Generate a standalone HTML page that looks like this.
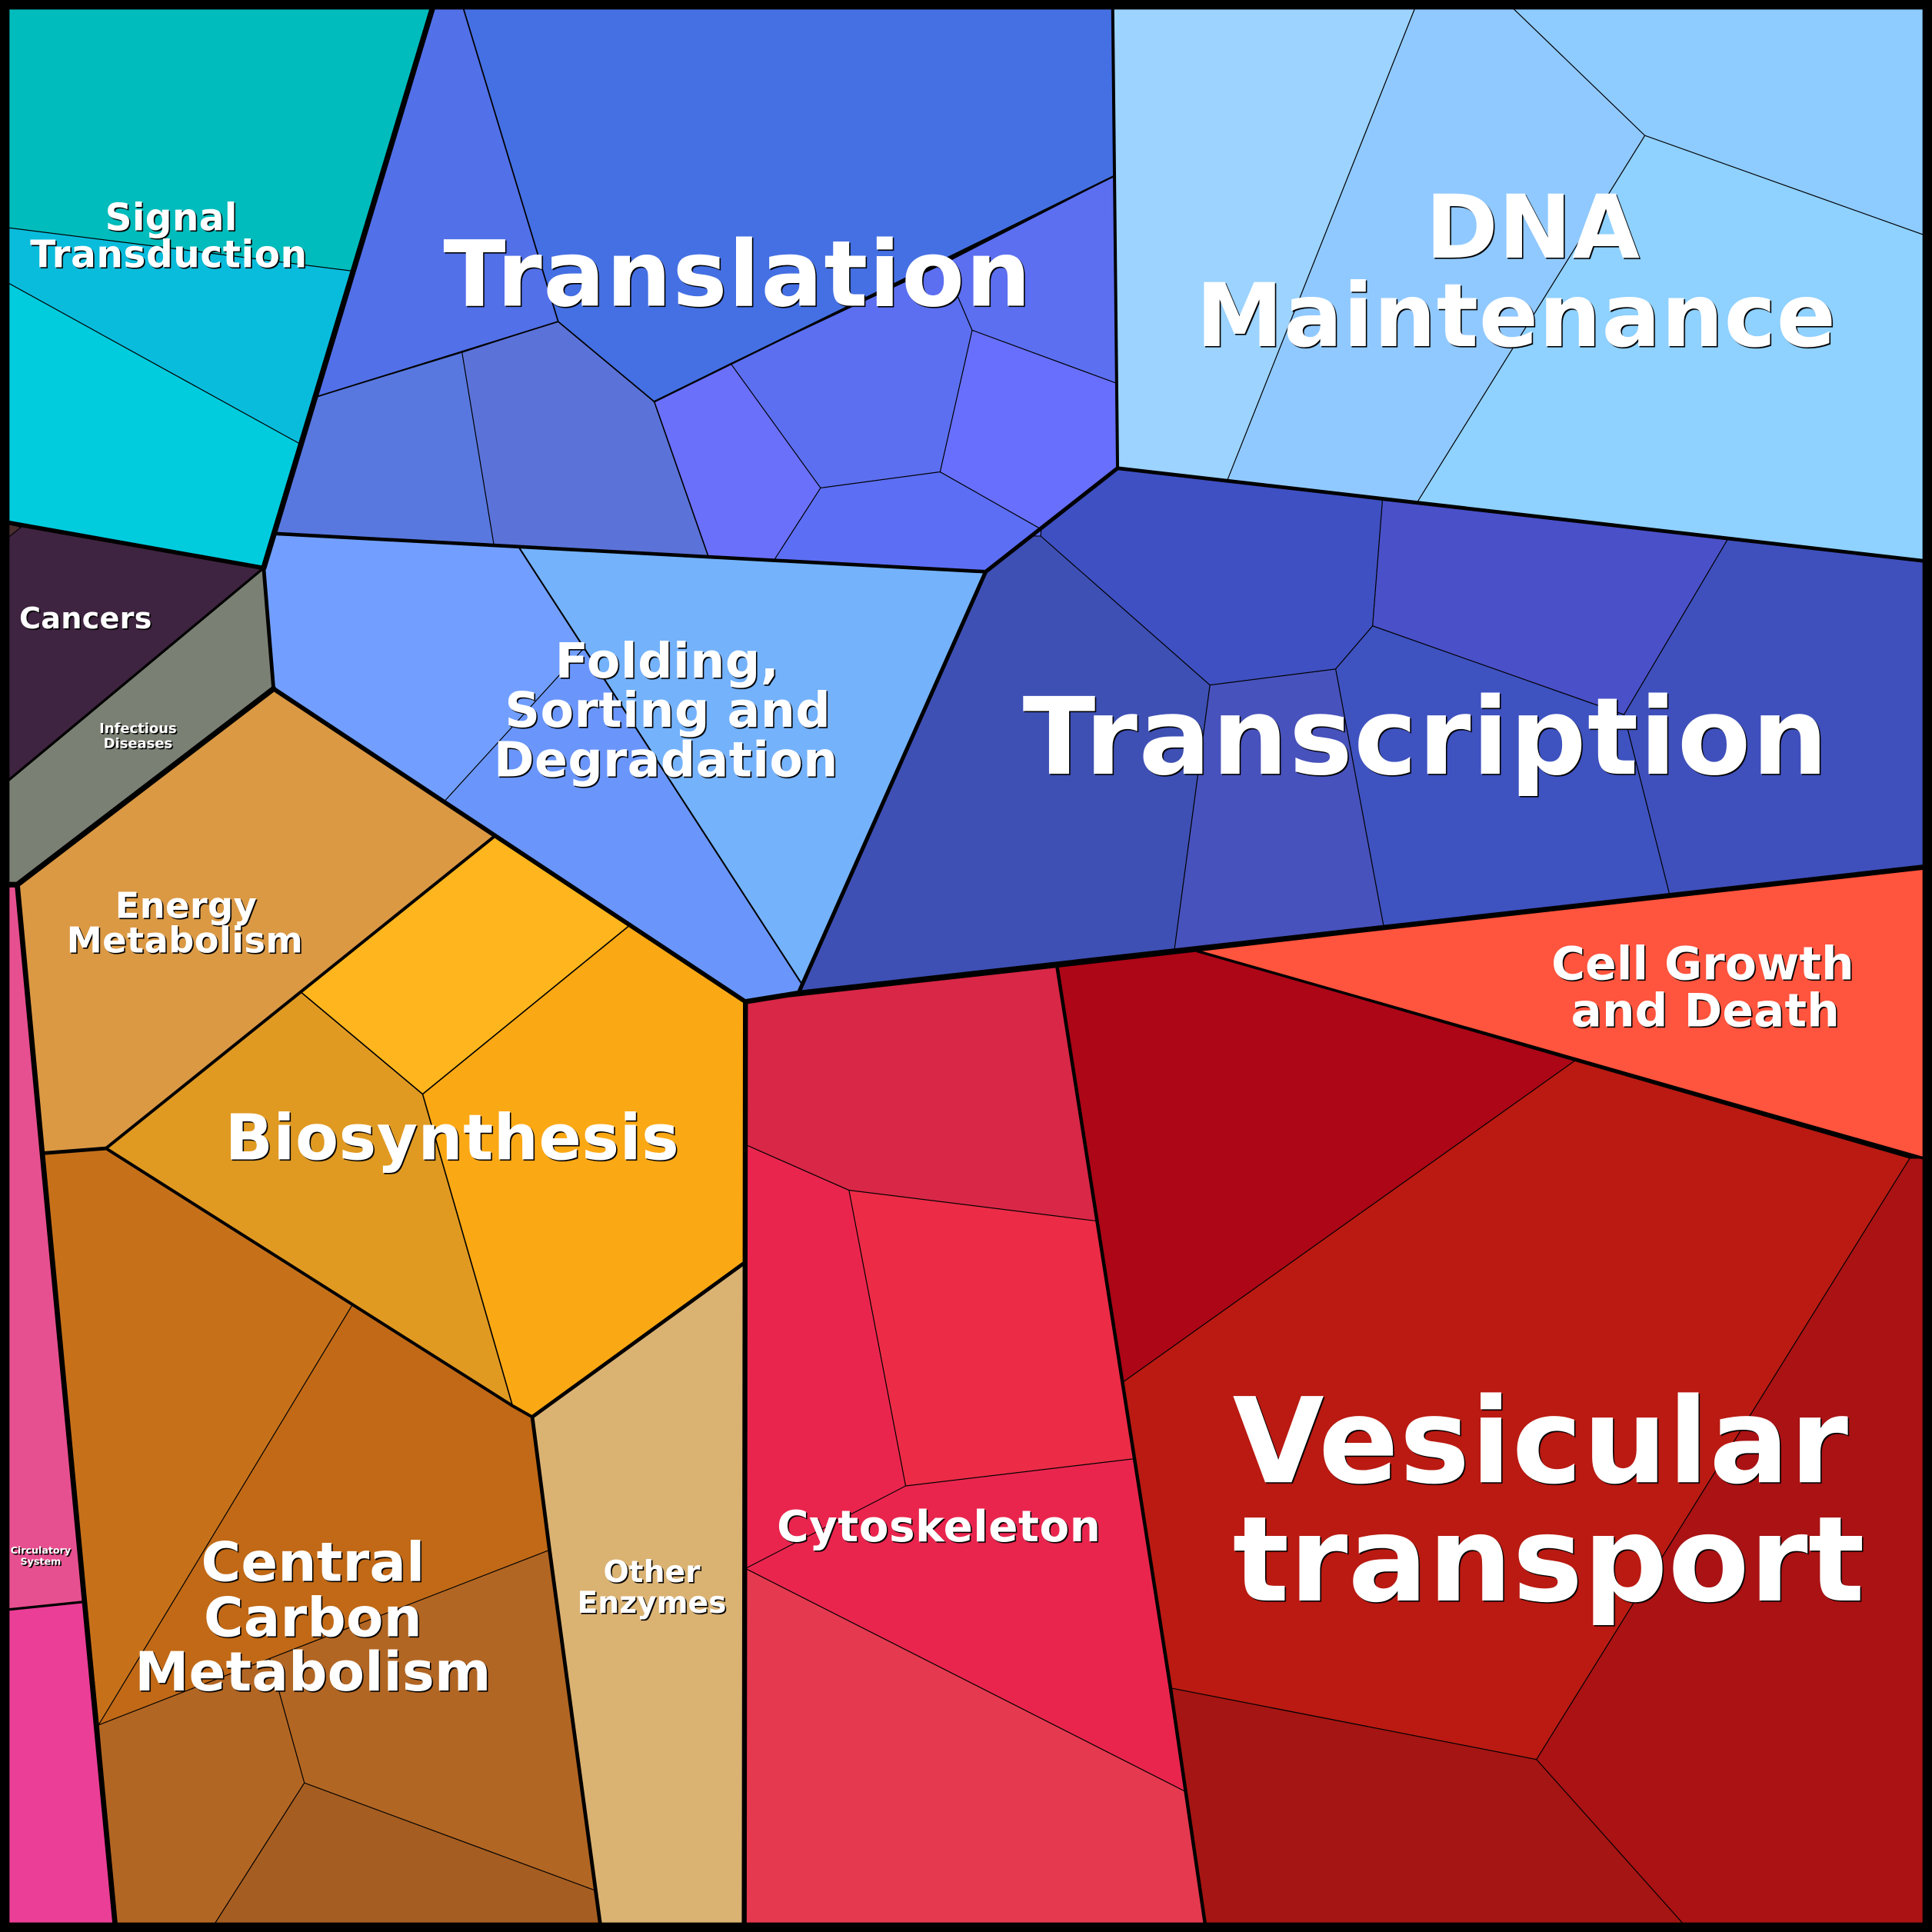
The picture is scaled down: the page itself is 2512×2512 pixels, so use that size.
<!DOCTYPE html>
<html><head><meta charset="utf-8"><style>
html,body{margin:0;padding:0;background:#000}
svg{display:block}
.c polygon{stroke:#000;stroke-width:.7;stroke-linejoin:round}
.t polyline{fill:none;stroke:#000;stroke-linejoin:round;stroke-linecap:round}
text{font-family:"DejaVu Sans",sans-serif;font-weight:700;fill:#fff;text-anchor:middle}
.lab{filter:drop-shadow(1px 1px .2px #000)}
</style></head><body>
<svg xmlns="http://www.w3.org/2000/svg" width="2512" height="2512" viewBox="0 0 1568 1568">
<rect width="1568" height="1568" fill="#000"/>
<g class="c">
<polygon fill="#00bcbc" points="0,0 353,0 286,220 0,184"/>
<polygon fill="#0abcdc" points="0,184 286,220 243,360 0,226"/>
<polygon fill="#00ccdd" points="0,226 243,360 214,461 0,423"/>
<polygon fill="#3e2440" points="0,423 214,461 0,639"/>
<polygon fill="#4a2e30" points="7,425 17,428 7,436"/>
<polygon fill="#7a8073" points="214,461 222,559 14,718 0,718 0,639"/>
<polygon fill="#db9944" points="222,559 401,679 244,805 86,932 34.3,936 14,718"/>
<polygon fill="#ffb61e" points="401,679 511,751 343,888 244,805"/>
<polygon fill="#fba815" points="511,751 605,813 604,1025 432,1150 416,1141 343,888"/>
<polygon fill="#e09a22" points="244,805 343,888 416,1141 86,932"/>
<polygon fill="#c6711a" points="34.3,936 86,932 286,1059 80,1400"/>
<polygon fill="#c16916" points="286,1059 416,1141 432,1150 446,1258 80,1400"/>
<polygon fill="#b26623" points="219,1346 446,1258 485,1535 247,1447"/>
<polygon fill="#b26623" points="80,1400 219,1346 247,1447 170,1568 94,1568"/>
<polygon fill="#a55d21" points="247,1447 485,1535 488,1568 170,1568"/>
<polygon fill="#dab272" points="432,1150 604,1025 604,1568 488,1568"/>
<polygon fill="#e75090" points="0,718 14,718 34.3,936 68.6,1300 0,1307"/>
<polygon fill="#eb3e97" points="0,1307 68.6,1300 94,1568 0,1568"/>
<polygon fill="#5270e8" points="353,0 374,0 453,261 257,322"/>
<polygon fill="#4570e4" points="374,0 903,0 904,143 531,326 453,261"/>
<polygon fill="#5878df" points="257,322 375,286 401,443 222,433"/>
<polygon fill="#5b73d8" points="375,286 453,261 531,326 575,452 401,443"/>
<polygon fill="#6a70fa" points="531,326 593,295 666,396 628,455 575,452"/>
<polygon fill="#5c6ff0" points="593,295 766,214 789,268 763,383 666,396"/>
<polygon fill="#5c6ff0" points="904,143 906,311 789,268 766,214"/>
<polygon fill="#676ffc" points="789,268 906,311 907,380 845,429.5 763,383"/>
<polygon fill="#5c6ef4" points="666,396 763,383 845,429.5 800,464 628,455"/>
<polygon fill="#729fff" points="222,433 421,444 474,526 361,650 222,559 214,461"/>
<polygon fill="#6a96fb" points="474,526 651,799 647,806 605,813 361,650"/>
<polygon fill="#74b2fb" points="421,444 800,464 651,799"/>
<polygon fill="#3e50b4" points="844.6,435 982,556 953,772 648,806 800,464 838,435"/>
<polygon fill="#3f50c2" points="844.6,435 845,429.5 907,380 1122,406 1114,508 1084,543 982,556"/>
<polygon fill="#5c6ef4" points="838,435 844.6,435 845,429.5"/>
<polygon fill="#4a50c8" points="1122,406 1402,438 1318,580 1114,508"/>
<polygon fill="#3f50bc" points="1402,438 1568,456 1568,703 1355,726 1318,580"/>
<polygon fill="#3e52c0" points="1114,508 1318,580 1355,726 1123,752 1084,543"/>
<polygon fill="#4852bc" points="982,556 1084,543 1123,752 953,772"/>
<polygon fill="#9cd3ff" points="903,0 1151,0 996,390 907,380"/>
<polygon fill="#90c9ff" points="1151,0 1221,0 1335,110 1150,408 996,390"/>
<polygon fill="#8ecbff" points="1221,0 1568,0 1568,193 1335,110"/>
<polygon fill="#8fd1ff" points="1335,110 1568,193 1568,456 1150,408"/>
<polygon fill="#ff543e" points="972,772 1568,703 1568,942"/>
<polygon fill="#ac0617" points="858,785 972,772 1278,861 911,1122"/>
<polygon fill="#ba1a12" points="1278,861 1550,940 1247,1428 950,1370 911,1122"/>
<polygon fill="#aa1214" points="1550,940 1568,940 1568,1568 1372,1568 1247,1428"/>
<polygon fill="#a51513" points="950,1370 1247,1428 1372,1568 979,1568"/>
<polygon fill="#d82747" points="605,813 858,785 890,991 689,966 605,929"/>
<polygon fill="#ec2b46" points="689,966 890,991 920,1184 735,1206"/>
<polygon fill="#e9254e" points="605,929 689,966 735,1206 605,1275"/>
<polygon fill="#e9254e" points="735,1206 920,1184 962,1454 605,1273"/>
<polygon fill="#e4394f" points="605,1273 962,1454 979,1568 605,1568"/>
</g>
<g class="t">
<polyline stroke-width="1.3" points="421,444 651,799"/>
<polyline stroke-width="1.1" points="374,0 453,261 531,326"/>
<polyline stroke-width="1.5" points="531,326 904,143"/>
<polyline stroke-width="1.1" points="257,322 453,261"/>
<polyline stroke-width="1" points="531,326 575,452"/>
<polyline stroke-width="1" points="511,751 343,888 244,805"/>
<polyline stroke-width="1" points="343,888 416,1141"/>
<polyline stroke-width="4.5" points="353,0 214,461"/>
<polyline stroke-width="3.5" points="0,423 214,461"/>
<polyline stroke-width="2" points="214,461 0,639"/>
<polyline stroke-width="3" points="214,461 222,559"/>
<polyline stroke-width="4.5" points="222,559 14,718 0,718"/>
<polyline stroke-width="3.6" points="222,559 605,813"/>
<polyline stroke-width="4" points="605,813 604,1568"/>
<polyline stroke-width="4.2" points="605,813 648,806 1568,703"/>
<polyline stroke-width="2.8" points="858,785 911,1122 950,1370 979,1568"/>
<polyline stroke-width="3" points="907,380 1568,456"/>
<polyline stroke-width="2.5" points="903,0 907,380"/>
<polyline stroke-width="2.9" points="222,433 800,464"/>
<polyline stroke-width="3" points="214,461 222,433"/>
<polyline stroke-width="3.2" points="648,806 800,464 907,380"/>
<polyline stroke-width="3" points="34.3,936 86,932"/>
<polyline stroke-width="2.5" points="86,932 416,1141 432,1150"/>
<polyline stroke-width="3" points="604,1025 432,1150 446,1258 488,1568"/>
<polyline stroke-width="4.2" points="14,718 34.3,936 68.6,1300 94,1568"/>
<polyline stroke-width="2.2" points="972,772 1568,942"/>
<polyline stroke-width="2.5" points="401,679 86,932"/>
<polyline stroke-width="2" points="0,1307 68.6,1300"/>
</g>
<rect x="3.85" y="3.85" width="1560.3" height="1560.3" fill="none" stroke="#000" stroke-width="7.7"/>
<g class="lab">
<text font-size="74.3" x="598.7" y="248" letter-spacing="1">Translation</text>
<text font-size="86.7" x="1157.2" y="628" letter-spacing=".92">Transcription</text>
<text font-size="71" x="1244" y="209" letter-spacing=".3">DNA</text>
<text font-size="71" x="1230.5" y="281" letter-spacing=".45">Maintenance</text>
<text font-size="96" x="1250.5" y="1203" letter-spacing=".65">Vesicular</text>
<text font-size="96" x="1257" y="1299" letter-spacing=".2">transport</text>
<text font-size="51" x="367" y="941" letter-spacing=".33">Biosynthesis</text>
<text font-size="44" x="254" y="1283" letter-spacing=".1">Central</text>
<text font-size="44" x="254" y="1328" letter-spacing=".1">Carbon</text>
<text font-size="44" x="254" y="1372" letter-spacing=".1">Metabolism</text>
<text font-size="39.6" x="541.5" y="550" letter-spacing=".3">Folding,</text>
<text font-size="39.6" x="542" y="590" letter-spacing=".3">Sorting and</text>
<text font-size="39.6" x="540.5" y="630" letter-spacing=".2">Degradation</text>
<text font-size="37.3" x="1382" y="795" letter-spacing=".1">Cell Growth</text>
<text font-size="37.3" x="1384" y="833" letter-spacing=".1">and Death</text>
<text font-size="35.2" x="762" y="1251" letter-spacing=".33">Cytoskeleton</text>
<text font-size="30.3" x="139" y="187" letter-spacing=".2">Signal</text>
<text font-size="30.3" x="137" y="217" letter-spacing=".35">Transduction</text>
<text font-size="29" x="151" y="745" letter-spacing=".2">Energy</text>
<text font-size="29" x="150" y="773" letter-spacing=".2">Metabolism</text>
<text font-size="24.5" x="529" y="1284">Other</text>
<text font-size="24.5" x="529" y="1309">Enzymes</text>
<text font-size="23.9" x="69.5" y="510" letter-spacing=".1">Cancers</text>
<text font-size="11.2" x="112" y="595">Infectious</text>
<text font-size="11.2" x="112" y="607">Diseases</text>
<text font-size="7.9" x="33" y="1261">Circulatory</text>
<text font-size="7.9" x="33" y="1270">System</text>
</g>
</svg>
</body></html>
